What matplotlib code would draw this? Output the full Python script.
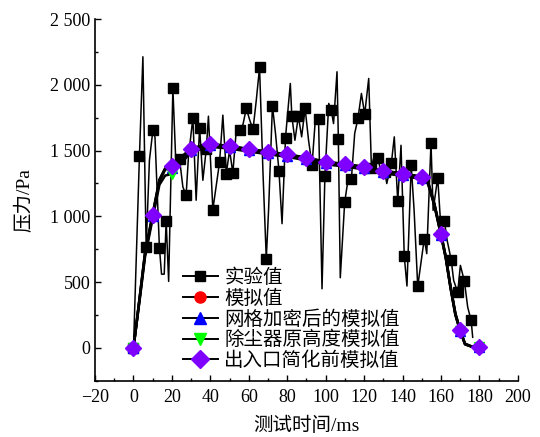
import numpy as np
import matplotlib
matplotlib.use('Agg')
import matplotlib.pyplot as plt
from matplotlib.ticker import MultipleLocator, FuncFormatter

plt.rcParams['font.family'] = ['Liberation Serif', 'Noto Sans CJK SC', 'DejaVu Sans']
plt.rcParams['axes.unicode_minus'] = False

# experimental data: points carrying a square marker
exp_mark_t = [0, 3.1, 6.6, 10.1, 13.5, 17.0, 20.5, 24.0, 27.4, 30.9, 34.4, 37.9,
              41.3, 44.8, 48.3, 51.7, 55.2, 58.7, 62.2, 65.6, 69.1, 72.3, 75.7,
              79.1, 82.4, 85.8, 89.3, 92.9, 96.3, 99.6, 102.9, 106.6, 109.9,
              113.4, 116.8, 120.3, 123.8, 127.3, 130.7, 134.2, 137.5, 140.9,
              144.5, 147.9, 151.3, 154.8, 158.3, 161.8, 165.3, 168.7, 172.2, 175.7]
exp_mark_p = [0, 1457, 766, 1655, 761, 967, 1972, 1432, 1162, 1748, 1675, 1515,
              1051, 1413, 1325, 1330, 1655, 1820, 1660, 2132, 678, 1840, 1345,
              1599, 1761, 1761, 1820, 1388, 1736, 1304, 1807, 1586, 1109,
              1287, 1744, 1777, 1371, 1447, 1340, 1406, 1116, 695,
              1388, 467, 830, 1558, 1294, 964, 670, 423, 505, 208]
# experimental data: samples between the marked points
exp_mid_t = [4.9, 8.3, 11.2, 14.6, 16.0, 18.3, 22.2, 25.7, 28.6, 32.6, 36.1, 39.0,
             46.5, 50.0, 53.5, 57.0, 60.5, 63.9, 67.4, 70.3, 73.9, 77.3, 81.6,
             84.0, 87.5, 91.1, 94.6, 98.1, 101.6, 104.1, 105.9, 107.6, 111.6,
             115.1, 118.6, 122.4, 125.5, 129.0, 131.8, 135.7, 139.2, 142.3,
             146.0, 152.6, 155.9, 159.7, 163.2, 166.6, 170.1, 173.9, 176.5]
exp_mid_p = [2213, 1426, 1600, 560, 560, 505, 1350, 1223, 1451, 1122, 1274, 1761,
             1769, 1502, 1655, 1700, 1731, 1883, 1325, 1050, 1630, 944, 2010,
             1578, 1604, 1578, 1731, 449, 1858, 1705, 2099, 533, 1274,
             1630, 1934, 2048, 1477, 1300, 1249, 1604, 1540, 470,
             1050, 716, 1045, 970, 817, 512, 627, 309, 80]

# simulations
sim_t = [0, 3.5, 6, 10, 13.5, 16.5, 20, 30, 40, 50, 60, 70, 80, 90, 100, 110, 120,
         130, 140, 150, 153, 156.5, 160, 162.5, 165, 167.5, 170, 172.5, 176, 180]
sim_base = [0, 420, 725, 1020, 1280, 1365, 1385, 1518, 1550, 1535, 1512, 1492, 1471,
            1447, 1415, 1398, 1377, 1347, 1327, 1301, 1276, 1100, 872, 693, 465,
            262, 135, 32, 10, 5]
sim_mesh = [0, 410, 710, 1005, 1265, 1355, 1370, 1505, 1540, 1525, 1502, 1482, 1462,
            1437, 1405, 1388, 1367, 1337, 1317, 1291, 1266, 1090, 860, 684, 455,
            253, 128, 28, 9, 4]
sim_height = [0, 395, 690, 985, 1240, 1310, 1322, 1490, 1528, 1515, 1492, 1472, 1452,
              1425, 1395, 1378, 1357, 1327, 1307, 1283, 1258, 1085, 855, 680, 450,
              248, 125, 26, 8, 3]
sim_inlet = [0, 413, 716, 1013, 1274, 1363, 1381, 1515, 1548, 1533, 1510, 1490, 1470,
             1445, 1413, 1396, 1375, 1345, 1325, 1299, 1274, 1097, 868, 690, 461,
             259, 132, 30, 10, 5]

labels = ['实验值', '模拟值', '网格加密后的模拟值', '除尘器原高度模拟值', '出入口简化前模拟值']

fig = plt.figure(figsize=(5.4, 4.37), dpi=100)
ax = fig.add_axes([0.176, 0.1288, 0.783, 0.8277])

# experimental curve: merge marked and intermediate samples
exp_t = np.array(exp_mark_t + exp_mid_t)
exp_p = np.array(exp_mark_p + exp_mid_p)
order = np.argsort(exp_t)
ax.plot(exp_t[order], exp_p[order], color='black', lw=1.1, zorder=2)
ax.plot(exp_mark_t, exp_mark_p, 's', color='black', ms=6.5, zorder=3)
h_exp, = ax.plot([], [], '-s', color='black', lw=1.4, ms=6.5)

marks = [i for i, t in enumerate(sim_t) if t % 10 == 0]
styles = [(sim_base, 'o', '#ff0000', 7),
          (sim_mesh, '^', '#0000ff', 7),
          (sim_height, 'v', '#00ff00', 7),
          (sim_inlet, 'D', '#8000ff', 8)]
handles = [h_exp]
for vals, m, c, s in styles:
    ax.plot(sim_t, vals, '-', color='black', lw=1.8, marker=m, ms=s,
            mfc=c, mec=c, markevery=marks, zorder=4)
    h, = ax.plot([], [], '-', color='black', lw=1.4, marker=m, ms=s + 1,
                 mfc=c, mec=c)
    handles.append(h)

ax.set_xlim(-20, 200)
ax.set_ylim(-250, 2500)
ax.xaxis.set_major_locator(MultipleLocator(20))
ax.xaxis.set_minor_locator(MultipleLocator(10))
ax.yaxis.set_major_locator(MultipleLocator(500))
ax.yaxis.set_minor_locator(MultipleLocator(250))
ax.yaxis.set_major_formatter(FuncFormatter(
    lambda v, pos: '{:,}'.format(int(v)).replace(',', ' ')))
ax.xaxis.set_major_formatter(FuncFormatter(
    lambda v, pos: ('\u2212' if v < 0 else '') + str(abs(int(v)))))
for side in ['top', 'right']:
    ax.spines[side].set_visible(False)
for side in ['left', 'bottom']:
    ax.spines[side].set_linewidth(1.2)
ax.tick_params(which='major', direction='in', length=4, width=1, labelsize=13)
ax.tick_params(which='minor', direction='in', length=2.5, width=1)
ax.tick_params(axis='x', pad=6)

ax.set_xlabel('测试时间/ms', fontsize=14, labelpad=8)
ax.set_ylabel('压力/Pa', fontsize=14, labelpad=12)

ax.legend(handles, labels, loc='upper left', bbox_to_anchor=(0.338, 0.385),
          bbox_transform=fig.transFigure, frameon=False, fontsize=14,
          handlelength=1.8, handletextpad=0.35, labelspacing=0.12,
          borderpad=0, borderaxespad=0)

plt.savefig('out.png', dpi=100)
